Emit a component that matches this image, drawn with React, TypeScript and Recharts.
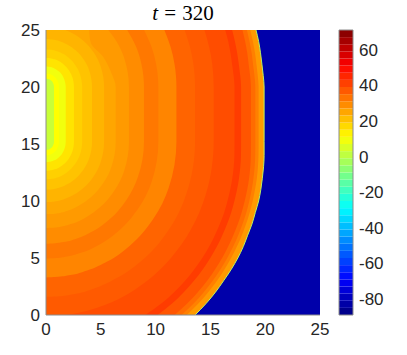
import React from 'react';
import { ComposedChart, Area, XAxis, YAxis, CartesianGrid, ReferenceArea } from 'recharts';

// front and the thin bands that follow it, x read at these y values
const frontY = [0, 1, 2, 3, 4, 5, 6, 7, 8, 9, 10, 11, 12, 13, 14, 15.2, 20, 21, 22, 23, 24, 25];
const front = [13.6, 14.6, 15.46, 16.2, 16.9, 17.5, 18.0, 18.4, 18.8, 19.1, 19.4, 19.6, 19.74, 19.85, 19.9, 19.9, 19.9, 19.82, 19.7, 19.57, 19.4, 19.16];
const wake1 = [12.84, 13.9, 14.8, 15.6, 16.28, 16.89, 17.42, 17.87, 18.26, 18.59, 18.86, 19.07, 19.24, 19.34, 19.39, 19.4, 19.4, 19.32, 19.2, 19.07, 18.88, 18.64];
const wake2 = [12.37, 13.47, 14.39, 15.21, 15.91, 16.54, 17.08, 17.54, 17.94, 18.28, 18.55, 18.77, 18.93, 19.04, 19.09, 19.1, 19.1, 19.02, 18.89, 18.76, 18.57, 18.33];
const wake3 = [11.73, 12.88, 13.85, 14.7, 15.42, 16.07, 16.62, 17.09, 17.51, 17.85, 18.13, 18.36, 18.53, 18.64, 18.69, 18.7, 18.7, 18.62, 18.49, 18.36, 18.17, 17.92];
const wake4 = [10.19, 11.5, 12.57, 13.5, 14.3, 14.99, 15.59, 16.09, 16.53, 16.9, 17.19, 17.43, 17.61, 17.73, 17.79, 17.8, 17.8, 17.72, 17.59, 17.44, 17.24, 16.98];
const wake5 = [9.07, 10.52, 11.69, 12.69, 13.52, 14.26, 14.89, 15.41, 15.87, 16.26, 16.56, 16.81, 17.0, 17.13, 17.19, 17.2, 17.2, 17.12, 16.98, 16.83, 16.63, 16.35];

// inner contours, [y, x] pairs
const c1530 = [[0, 1.75], [0.2, 3.01], [0.5, 4.24], [1, 5.7], [1.5, 6.81], [2.2, 8.07], [3, 9.23], [4, 10.42], [5, 11.4], [6.2, 12.37], [7.5, 13.22], [9, 13.99], [10.5, 14.56], [12, 14.96], [13, 15.14], [15.2, 15.3], [20, 15.3], [22, 15.17], [23.5, 14.89], [25, 14.46]];
const c1360 = [[1.6, 0], [1.627, 0.95], [1.804, 2.37], [2.266, 4.2], [3.191, 6.38], [4.782, 8.75], [7.394, 11.14], [10.549, 12.78], [15.2, 13.6], [20, 13.6], [22, 13.45], [23.5, 13.14], [25, 12.65]];
const c1190 = [[3.3, 0], [3.324, 0.83], [3.478, 2.07], [3.883, 3.68], [4.692, 5.58], [6.085, 7.65], [8.369, 9.75], [11.13, 11.19], [15.2, 11.9], [20, 11.9], [22, 11.73], [23.5, 11.37], [25, 10.8]];
const c1025 = [[4.95, 0], [4.971, 0.72], [5.104, 1.78], [5.452, 3.17], [6.149, 4.81], [7.348, 6.59], [9.316, 8.4], [11.694, 9.64], [15.2, 10.25], [20, 10.25], [22, 10.05], [23.5, 9.63], [25, 8.95]];
const c894 = [[6.26, 0], [6.278, 0.63], [6.394, 1.56], [6.698, 2.76], [7.306, 4.19], [8.352, 5.75], [10.068, 7.32], [12.143, 8.4], [15.2, 8.94], [20, 8.94], [22, 8.71], [23.5, 8.23], [25, 7.41]];
const c757 = [[7.63, 0], [7.645, 0.53], [7.744, 1.32], [8.001, 2.34], [8.516, 3.55], [9.401, 4.87], [10.855, 6.2], [12.611, 7.12], [15.2, 7.57], [20, 7.57], [22.589, 7.12], [24.345, 6.2], [25, 5.68]];
const c636 = [[8.84, 0], [8.853, 0.45], [8.935, 1.11], [9.152, 1.97], [9.584, 2.98], [10.328, 4.09], [11.549, 5.21], [13.025, 5.98], [15.2, 6.36], [20, 6.36], [21.175, 5.98], [22.651, 5.21], [23.872, 4.09], [25, 3.93]];
const c530 = [[9.9, 0], [9.913, 0.37], [9.98, 0.92], [10.16, 1.64], [10.52, 2.49], [11.14, 3.41], [12.158, 4.34], [13.387, 4.98], [15.2, 5.3], [20, 5.3], [21.813, 4.98], [23.042, 4.34], [24.06, 3.41], [24.68, 2.49], [25, 1.76]];
const c420 = [[11.0, 0], [11.01, 0.29], [11.063, 0.73], [11.206, 1.3], [11.491, 1.97], [11.983, 2.7], [12.789, 3.44], [13.764, 3.95], [15.2, 4.2], [20, 4.2], [21.436, 3.95], [22.411, 3.44], [23.217, 2.7], [23.709, 1.97], [23.994, 1.3], [24.137, 0.73], [24.19, 0.29], [24.2, 0]];
const c330 = [[11.9, 0], [11.908, 0.23], [11.95, 0.57], [12.062, 1.02], [12.286, 1.55], [12.672, 2.12], [13.306, 2.7], [14.071, 3.1], [15.2, 3.3], [20, 3.3], [21.129, 3.1], [21.894, 2.7], [22.528, 2.12], [22.914, 1.55], [23.138, 1.02], [23.25, 0.57], [23.292, 0.23], [23.3, 0]];
const c255 = [[12.65, 0], [12.656, 0.18], [12.689, 0.44], [12.775, 0.79], [12.948, 1.2], [13.247, 1.64], [13.736, 2.09], [14.328, 2.4], [15.2, 2.55], [20, 2.55], [20.872, 2.4], [21.464, 2.09], [21.953, 1.64], [22.252, 1.2], [22.425, 0.79], [22.511, 0.44], [22.544, 0.18], [22.55, 0]];
const c180 = [[13.4, 0], [13.44, 0.37], [13.57, 0.76], [13.82, 1.16], [14.3, 1.56], [15.2, 1.8], [20, 1.8], [20.9, 1.56], [21.38, 1.16], [21.63, 0.76], [21.76, 0.37], [21.8, 0]];
const c119 = [[14.01, 0], [14.04, 0.25], [14.12, 0.5], [14.29, 0.77], [14.61, 1.03], [15.2, 1.19], [20, 1.19], [20.6, 1.03], [20.91, 0.77], [21.08, 0.5], [21.16, 0.25], [21.19, 0]];
const c073 = [[14.47, 0], [14.49, 0.15], [14.54, 0.31], [14.64, 0.47], [14.84, 0.63], [15.2, 0.73], [20, 0.73], [20.37, 0.63], [20.56, 0.47], [20.66, 0.31], [20.71, 0.15], [20.73, 0]];

const axisTicks = [0, 5, 10, 15, 20, 25];
const cbTicks = [-80, -60, -40, -20, 0, 20, 40, 60];
const cbMin = -89;
const cbMax = 71;
const cbCount = 40;

const byY = (xs: number[]) => frontY.map((y, i) => ({ y, x: xs[i] }));
const byPairs = (p: number[][]) => p.map(([y, x]) => ({ y, x }));

// outermost first, each filled with the band just inside its edge
const layers = [
  { id: 'front', data: byY(front), fill: '#ff9a00', stroke: '#b8f060' },
  { id: 'w1', data: byY(wake1), fill: '#ff8000' },
  { id: 'w2', data: byY(wake2), fill: '#ff6c00' },
  { id: 'w3', data: byY(wake3), fill: '#ff5500' },
  { id: 'w4', data: byY(wake4), fill: '#ff3c00' },
  { id: 'w5', data: byY(wake5), fill: '#ff4d00' },
  { id: 'c1530', data: byPairs(c1530), fill: '#ff5a00' },
  { id: 'c1360', data: byPairs(c1360), fill: '#ff6400' },
  { id: 'c1190', data: byPairs(c1190), fill: '#ff8500' },
  { id: 'c1025', data: byPairs(c1025), fill: '#ff7800' },
  { id: 'c894', data: byPairs(c894), fill: '#ff8c00' },
  { id: 'c757', data: byPairs(c757), fill: '#ff9a00' },
  { id: 'c636', data: byPairs(c636), fill: '#ffa600' },
  { id: 'c530', data: byPairs(c530), fill: '#ffb400' },
  { id: 'c420', data: byPairs(c420), fill: '#ffc300' },
  { id: 'c330', data: byPairs(c330), fill: '#ffd000' },
  { id: 'c255', data: byPairs(c255), fill: '#ffe400' },
  { id: 'c180', data: byPairs(c180), fill: '#f2ff0d' },
  { id: 'c119', data: byPairs(c119), fill: '#ffff00' },
  { id: 'c073', data: byPairs(c073), fill: '#c8ff37' },
];

const jet = (t: number) => {
  const c = (v: number) => Math.round(255 * Math.max(0, Math.min(1, v)));
  const r = c(1.5 - Math.abs(4 * t - 3));
  const g = c(1.5 - Math.abs(4 * t - 2));
  const b = c(1.5 - Math.abs(4 * t - 1));
  return `rgb(${r},${g},${b})`;
};

const step = (cbMax - cbMin) / cbCount;
const cbBands = Array.from({ length: cbCount }, (_, i) => ({
  lo: cbMin + i * step,
  hi: cbMin + (i + 1) * step,
  color: jet((i + 0.5) / cbCount),
}));

const font = 'Liberation Sans, Arial, Helvetica, sans-serif';
const tickStyle = { fill: '#262626', fontSize: 17, fontFamily: font };

export default function App() {
  return (
    <div style={{ position: 'absolute', left: 0, top: 0, width: 407, height: 355, background: '#fff' }}>
      <div
        style={{
          position: 'absolute', left: 46, top: 1, width: 274, textAlign: 'center',
          fontFamily: 'Liberation Serif, Times New Roman, serif', fontSize: 21, lineHeight: '24px', color: '#000',
          wordSpacing: 1,
        }}
      >
        <span style={{ fontStyle: 'italic' }}>t</span>
        {' = 320'}
      </div>

      <div style={{ position: 'absolute', left: 0, top: 0 }}>
        <ComposedChart layout="vertical" width={330} height={355} margin={{ top: 30, right: 10, bottom: 10, left: 6 }}>
          <CartesianGrid fill="#0000aa" fillOpacity={1} horizontal={false} vertical={false} stroke="none" />
          <XAxis
            type="number" dataKey="x" domain={[0, 25]} ticks={axisTicks} height={30}
            tick={tickStyle} tickLine={false} tickSize={6} tickMargin={2}
            axisLine={{ stroke: '#8c8c8c' }} allowDataOverflow
          />
          <YAxis
            type="number" dataKey="y" domain={[0, 25]} ticks={axisTicks} width={40} reversed
            tick={tickStyle} tickLine={false} tickSize={4} tickMargin={2}
            axisLine={{ stroke: '#8c8c8c' }} allowDataOverflow
          />
          {layers.map((l) => (
            <Area
              key={l.id}
              data={l.data}
              dataKey="x"
              type="monotone"
              fill={l.fill}
              fillOpacity={1}
              stroke={l.stroke ?? 'none'}
              strokeWidth={1}
              dot={false}
              activeDot={false}
              isAnimationActive={false}
            />
          ))}
        </ComposedChart>
      </div>

      <div style={{ position: 'absolute', left: 330, top: 0 }}>
        <ComposedChart width={77} height={355} margin={{ top: 30, right: 0, bottom: 40, left: 9 }} data={[{ x: 0 }, { x: 1 }]}>
          <XAxis type="number" dataKey="x" domain={[0, 1]} hide />
          <YAxis
            type="number" domain={[cbMin, cbMax]} ticks={cbTicks} orientation="right" width={54}
            tick={tickStyle} tickLine={false} tickSize={4} tickMargin={2}
            axisLine={false} allowDataOverflow
          />
          {cbBands.map((b, i) => (
            <ReferenceArea key={i} x1={0} x2={1} y1={b.lo} y2={b.hi} fill={b.color} fillOpacity={1} stroke="none" />
          ))}
          <ReferenceArea x1={0} x2={1} y1={cbMin} y2={cbMax} fill="none" stroke="#8c8c8c" strokeWidth={1} />
        </ComposedChart>
      </div>
    </div>
  );
}
